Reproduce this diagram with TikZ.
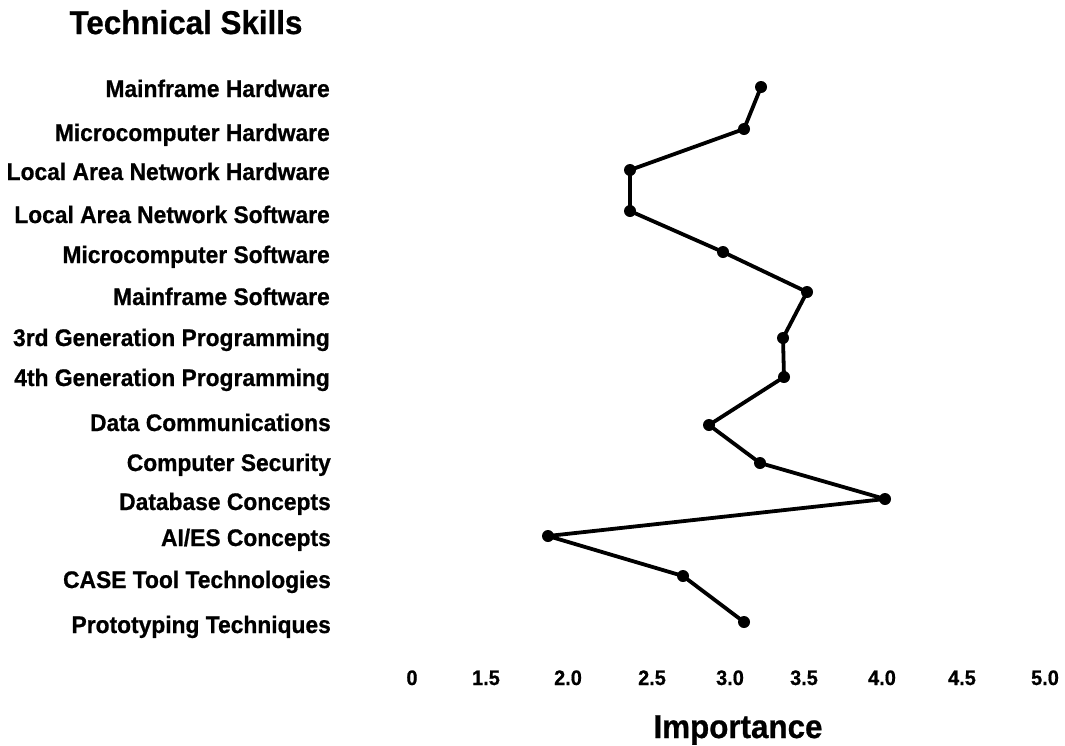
\documentclass[tikz,border=0pt]{standalone}
\usepackage{fontspec}
\setmainfont{Liberation Sans}
% heavy, slightly condensed face for all chart text
\newfontfamily\heavy[FakeStretch=0.95,FakeBold=0.7]{Liberation Sans Bold}
\begin{document}
\begin{tikzpicture}[x=1pt,y=-1pt,
  lab/.style={anchor=base east, inner sep=0pt, font=\heavy\fontsize{24}{26}\selectfont},
  num/.style={anchor=base, inner sep=0pt, font=\heavy\fontsize{21}{24}\selectfont},
  heading/.style={anchor=base, inner sep=0pt, font=\heavy\fontsize{33}{36}\selectfont},
  dot/.style={circle, fill=black, inner sep=0pt, minimum size=12pt},
  link/.style={line width=3.8pt, line join=round}]
\useasboundingbox (0,0) rectangle (1065,745);

% title
\node[heading] (title) at (186,34) {Technical Skills};

% skill labels
\node[lab] (l1)  at (330,97)  {Mainframe Hardware};
\node[lab] (l2)  at (330,141) {Microcomputer Hardware};
\node[lab] (l3)  at (330,180) {Local Area Network Hardware};
\node[lab] (l4)  at (330,223) {Local Area Network Software};
\node[lab] (l5)  at (330,263) {Microcomputer Software};
\node[lab] (l6)  at (330,305) {Mainframe Software};
\node[lab] (l7)  at (330,346) {3rd Generation Programming};
\node[lab] (l8)  at (330,386) {4th Generation Programming};
\node[lab] (l9)  at (331,431) {Data Communications};
\node[lab] (l10) at (331,471) {Computer Security};
\node[lab] (l11) at (331,510) {Database Concepts};
\node[lab] (l12) at (331,546) {AI/ES Concepts};
\node[lab] (l13) at (331,588) {CASE Tool Technologies};
\node[lab] (l14) at (331,633) {Prototyping Techniques};

% data points
\node[dot] (p1)  at (761,87)  {};
\node[dot] (p2)  at (744,129) {};
\node[dot] (p3)  at (630,170) {};
\node[dot] (p4)  at (630,211) {};
\node[dot] (p5)  at (723,252) {};
\node[dot] (p6)  at (807,292) {};
\node[dot] (p7)  at (783,338) {};
\node[dot] (p8)  at (784,377) {};
\node[dot] (p9)  at (709,425) {};
\node[dot] (p10) at (760,463) {};
\node[dot] (p11) at (885,499) {};
\node[dot] (p12) at (548,536) {};
\node[dot] (p13) at (683,576) {};
\node[dot] (p14) at (744,622) {};

% profile line
\draw[link] (p1.center) -- (p2.center) -- (p3.center) -- (p4.center) -- (p5.center)
  -- (p6.center) -- (p7.center) -- (p8.center) -- (p9.center) -- (p10.center)
  -- (p11.center) -- (p12.center) -- (p13.center) -- (p14.center);

% scale values
\node[num] (s0)  at (412,685)  {0};
\node[num] (s15) at (486,685)  {1.5};
\node[num] (s20) at (568,685)  {2.0};
\node[num] (s25) at (652,685)  {2.5};
\node[num] (s30) at (730,685)  {3.0};
\node[num] (s35) at (804,685)  {3.5};
\node[num] (s40) at (882,685)  {4.0};
\node[num] (s45) at (962,685)  {4.5};
\node[num] (s50) at (1045,685) {5.0};

% axis title
\node[heading] (axis) at (738,738) {Importance};
\end{tikzpicture}
\end{document}
